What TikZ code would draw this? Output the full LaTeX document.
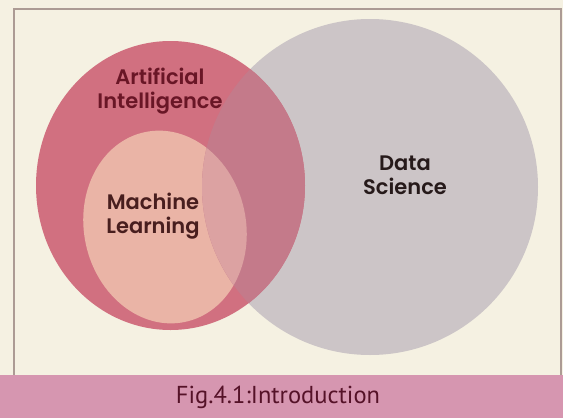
\documentclass[tikz,border=0pt]{standalone}
\usepackage{fontspec}
\newfontfamily\popfont{Poppins SemiBold}
\newfontfamily\capfont{PT Sans}
\definecolor{paper}{RGB}{245,241,226}
\definecolor{redc}{RGB}{209,112,128}
\definecolor{mlc}{RGB}{234,180,166}
\definecolor{greyc}{RGB}{204,197,199}
\definecolor{overc}{RGB}{196,122,138}
\definecolor{overml}{RGB}{220,162,162}
\definecolor{band}{RGB}{214,150,176}
\definecolor{framec}{RGB}{172,155,148}
\definecolor{aitxt}{RGB}{105,22,38}
\definecolor{mltxt}{RGB}{72,30,30}
\definecolor{dstxt}{RGB}{38,26,26}
\definecolor{captxt}{RGB}{85,18,40}
\tikzset{
  lbl/.style={font=\popfont\fontsize{21}{24}\selectfont, align=center, inner sep=0pt},
  captext/.style={font=\capfont\fontsize{24.5}{28}\selectfont, text=captxt, inner sep=0pt}
}
\begin{document}
\begin{tikzpicture}[x=1pt,y=-1pt]
\fill[paper] (0,0) rectangle (563,418);
\useasboundingbox (0,0) rectangle (563,418);
% frame
\draw[framec, line width=1.4pt] (14,375) -- (14,9) -- (561,9) -- (561,375);
% grey circle (underneath)
\fill[greyc] (370,187) circle [radius=168];
% red circle on top
\fill[redc] (170.5,185.5) ellipse [x radius=134.5, y radius=144.5];
\fill[mlc, rotate around={12:(165,227)}] (165,227) ellipse [x radius=81, y radius=97];
% tinted overlap
\begin{scope}
  \clip (370,187) circle [radius=168];
  \fill[overc] (170.5,185.5) ellipse [x radius=134.5, y radius=144.5];
  \fill[overml, rotate around={12:(165,227)}] (165,227) ellipse [x radius=81, y radius=97];
\end{scope}
% band
\fill[band] (0,375) rectangle (563,418);
% labels
\node[lbl, text=aitxt] (ai) at (160,91) {Artificial\\Intelligence};
\node[lbl, text=mltxt] (ml) at (153,216.5) {Machine\\Learning};
\node[lbl, text=dstxt] (ds) at (405,175) {Data\\Science};
\node[captext, anchor=base] (caption) at (278,403) {Fig.4.1:Introduction};
\end{tikzpicture}
\end{document}
